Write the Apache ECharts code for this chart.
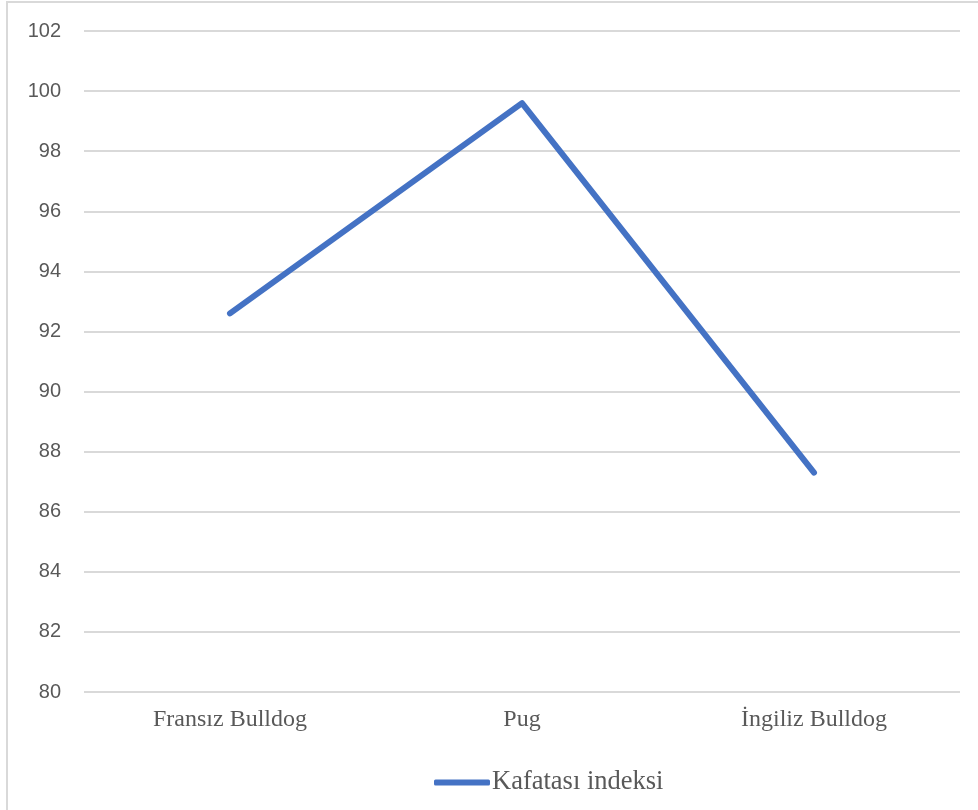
<!DOCTYPE html>
<html>
<head>
<meta charset="utf-8">
<script src="https://cdn.jsdelivr.net/npm/echarts@6/dist/echarts.min.js"></script>
<style>
  html, body { margin: 0; padding: 0; background: #ffffff; }
  #chart { width: 978px; height: 810px; }
</style>
</head>
<body>
<div id="chart"></div>
<script>
// Skull index by breed
const categories = ['Fransız Bulldog', 'Pug', 'İngiliz Bulldog'];
const skullIndex = [92.6, 99.6, 87.3];
const seriesName = 'Kafatası indeksi';
const yMin = 80, yMax = 102, yStep = 2;

const chart = echarts.init(document.getElementById('chart'), null, { renderer: 'canvas' });

chart.setOption({
  animation: false,
  backgroundColor: '#ffffff',
  graphic: [{
    type: 'rect',
    silent: true,
    shape: { x: 7, y: 2, width: 1000, height: 1000 },
    style: { fill: 'none', stroke: '#d9d9d9', lineWidth: 2 }
  }],
  grid: { left: 84, right: 18, top: 31, bottom: 118, containLabel: false },
  legend: {
    data: [seriesName],
    icon: 'roundRect',
    left: 429,
    top: 764,
    itemWidth: 56,
    itemHeight: 6,
    itemGap: 0,
    textStyle: { fontFamily: 'Liberation Serif', fontSize: 26.5, color: '#595959', padding: [0, 0, 0, -3] }
  },
  xAxis: {
    type: 'category',
    data: categories,
    boundaryGap: true,
    axisLine: { show: false },
    axisTick: { show: false },
    axisLabel: {
      margin: 16,
      fontFamily: 'Liberation Serif',
      fontSize: 24,
      color: '#595959'
    },
    splitLine: { show: false }
  },
  yAxis: {
    type: 'value',
    min: yMin,
    max: yMax,
    interval: yStep,
    axisLine: { show: false },
    axisTick: { show: false },
    axisLabel: {
      margin: 23,
      fontFamily: 'Liberation Sans',
      fontSize: 20,
      color: '#595959'
    },
    splitLine: { lineStyle: { color: '#d9d9d9', width: 2 } }
  },
  series: [{
    name: seriesName,
    type: 'line',
    data: skullIndex,
    symbol: 'none',
    lineStyle: { color: '#4472c4', width: 6, cap: 'round', join: 'round' },
    itemStyle: { color: '#4472c4' }
  }]
});
</script>
</body>
</html>
